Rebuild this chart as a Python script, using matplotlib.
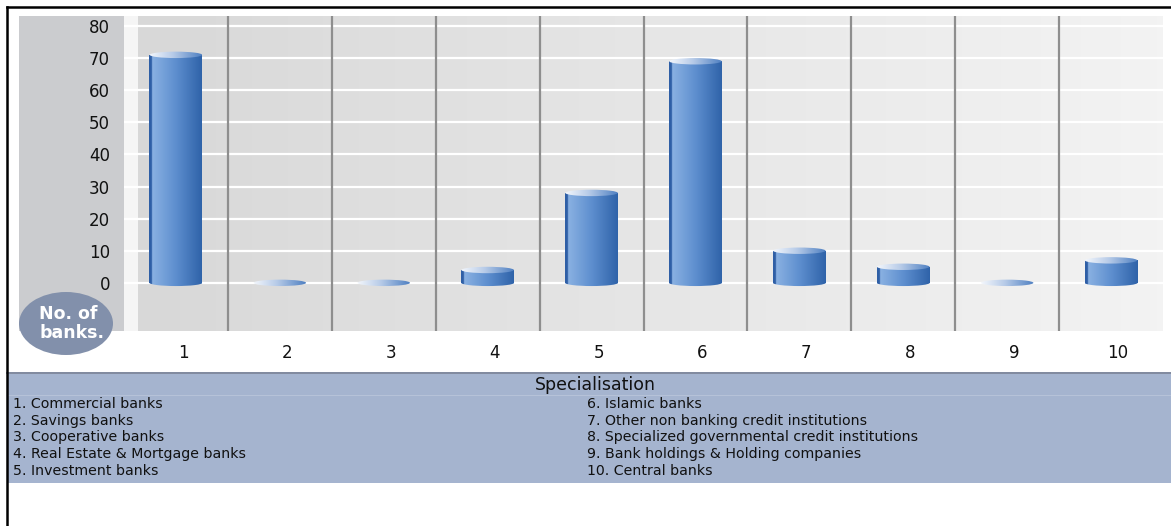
import numpy as np
import matplotlib
matplotlib.use("Agg")
import matplotlib.pyplot as plt
from matplotlib.patches import Rectangle, Ellipse
from matplotlib.colors import LinearSegmentedColormap
from matplotlib.transforms import ScaledTranslation
from matplotlib.lines import Line2D

# ---------------- data ----------------
categories = ['1', '2', '3', '4', '5', '6', '7', '8', '9', '10']
values = [71, 0, 0, 4, 28, 69, 10, 5, 0, 7]
y_ticks = [0, 10, 20, 30, 40, 50, 60, 70, 80]
legend_left = ['1. Commercial banks', '2. Savings banks', '3. Cooperative banks',
               '4. Real Estate & Mortgage banks', '5. Investment banks']
legend_right = ['6. Islamic banks', '7. Other non banking credit institutions',
                '8. Specialized governmental credit institutions',
                '9. Bank holdings & Holding companies', '10. Central banks']
legend_title = 'Specialisation'
badge_lines = ['No. of', 'banks.']

W, H = 1171, 526
fig = plt.figure(figsize=(W / 100, H / 100), dpi=100)
fig.patch.set_facecolor('white')

def fx(px):
    return px / W

def fy(py):
    return 1 - py / H

# gray y-axis panel
fig.patches.append(Rectangle((fx(19), fy(331)), fx(124) - fx(19), fy(16) - fy(331),
                             transform=fig.transFigure, facecolor='#cbcccf',
                             edgecolor='none', zorder=-2))

ax = fig.add_axes([fx(124), fy(331), fx(1163) - fx(124), fy(16) - fy(331)])
ax.set_zorder(1)
ax.set_facecolor('#f5f5f5')
for s in ax.spines.values():
    s.set_visible(False)

XMIN, XMAX = 0, len(categories)
YMIN, YMAX = -15, 83.1

# background gradient (starting after light strip)
strip = 14 / (1163 - 124) * XMAX
bg = np.linspace(0, 1, 256).reshape(1, -1)
bg_cmap = LinearSegmentedColormap.from_list('bg', ['#d8d8d8', '#e6e6e6', '#f3f3f3'])
ax.imshow(bg, extent=[strip, XMAX, YMIN, YMAX], aspect='auto', cmap=bg_cmap,
          zorder=0, interpolation='bilinear')

# gridlines
for t in y_ticks:
    ax.axhline(t, color='white', lw=1.6, zorder=1)
# vertical dividers
for i in range(1, len(categories)):
    ax.axvline(i, color='#8e8e8e', lw=1.6, zorder=1)

# cylinders
body_cmap = LinearSegmentedColormap.from_list(
    'body', [(0, '#2f5fa6'), (0.05, '#2f5fa6'), (0.06, '#8ab1e2'),
             (0.5, '#5e8fcf'), (1, '#2f63a9')])
top_cmap = LinearSegmentedColormap.from_list(
    'top', [(0, '#f4f7fc'), (0.45, '#b7cbe8'), (1, '#4f80c2')])
grad = np.linspace(0, 1, 256).reshape(1, -1)

bw = 0.51
eh = 2.0
for i, v in enumerate(values):
    xc = i + 0.5
    x0 = xc - bw / 2
    if v > 0:
        rect = Rectangle((x0, 0), bw, v, transform=ax.transData)
        im = ax.imshow(grad, extent=[x0, x0 + bw, -eh, v], aspect='auto',
                       cmap=body_cmap, zorder=3, interpolation='bilinear')
        im.set_clip_path(rect)
        bot = Ellipse((xc, 0), bw, eh, transform=ax.transData)
        im2 = ax.imshow(grad, extent=[x0, x0 + bw, -eh, v], aspect='auto',
                        cmap=body_cmap, zorder=3, interpolation='bilinear')
        im2.set_clip_path(bot)
    topE = Ellipse((xc, v), bw * 0.99, eh, transform=ax.transData)
    im3 = ax.imshow(grad, extent=[x0, x0 + bw, v - eh, v + eh], aspect='auto',
                    cmap=top_cmap, zorder=4, interpolation='bilinear')
    im3.set_clip_path(topE)

ax.set_xlim(XMIN, XMAX)
ax.set_ylim(YMIN, YMAX)

ax.set_yticks(y_ticks)
ax.set_yticklabels([str(t) for t in y_ticks], fontsize=12, color='#111111')
ax.set_xticks([i + 0.5 for i in range(len(categories))])
ax.set_xticklabels(categories, fontsize=12, color='#111111')
ax.tick_params(axis='both', length=0)
ax.tick_params(axis='y', pad=10)
ax.tick_params(axis='x', pad=9)
off = ScaledTranslation(7 / 100, 0, fig.dpi_scale_trans)
for lbl in ax.get_xticklabels():
    lbl.set_transform(lbl.get_transform() + off)

# badge ellipse
fig.patches.append(Ellipse((fx(66), fy(323.5)), fx(94), 63 / H, transform=fig.transFigure,
                           facecolor='#8290ab', edgecolor='none', zorder=5))
fig.text(fx(68), fy(314), badge_lines[0], ha='center', va='center', color='white',
         fontsize=12.5, fontweight='bold', zorder=6)
fig.text(fx(72), fy(332.5), badge_lines[1], ha='center', va='center', color='white',
         fontsize=12.5, fontweight='bold', zorder=6)

# legend panel
fig.patches.append(Rectangle((fx(7), fy(483)), 1 - fx(7), fy(372) - fy(483),
                             transform=fig.transFigure, facecolor='#a5b4cf',
                             edgecolor='none', zorder=1))
fig.lines.append(Line2D([fx(7), 1], [fy(372.5), fy(372.5)], transform=fig.transFigure,
                        color='#7b8397', lw=1.2, zorder=2))
fig.lines.append(Line2D([fx(7), 1], [fy(394.5), fy(394.5)], transform=fig.transFigure,
                        color='#b6c2d8', lw=0.8, zorder=2))
fig.text(fx(595), fy(385), legend_title, ha='center', va='center', fontsize=12.5,
         color='#111111', zorder=3)
row_y = [404, 421, 437.5, 454, 471]
for t, yy in zip(legend_left, row_y):
    fig.text(fx(13), fy(yy), t, ha='left', va='center', fontsize=10.2,
             color='#111111', zorder=3)
for t, yy in zip(legend_right, row_y):
    fig.text(fx(587), fy(yy), t, ha='left', va='center', fontsize=10.2,
             color='#111111', zorder=3)

# outer border
fig.lines.append(Line2D([fx(7), 1], [fy(7), fy(7)], transform=fig.transFigure,
                        color='black', lw=1.8, zorder=10))
fig.lines.append(Line2D([fx(7), fx(7)], [fy(7), 0], transform=fig.transFigure,
                        color='black', lw=1.8, zorder=10))

fig.savefig('out.png', dpi=100)
